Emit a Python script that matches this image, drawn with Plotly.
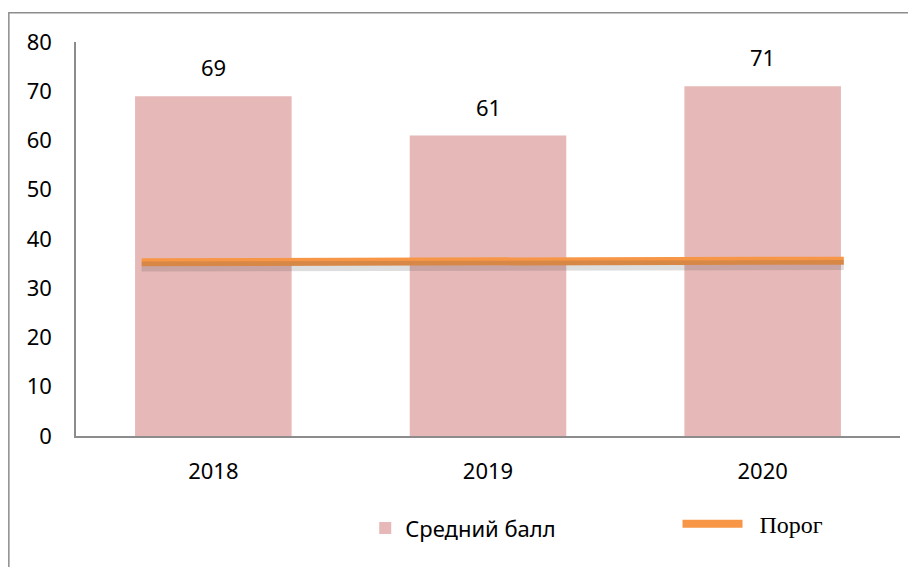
import plotly.graph_objects as go

years = ["2018", "2019", "2020"]
avg_score = [69, 61, 71]
threshold = [35.3, 35.45, 35.6]

BAR_COLOR = "#E6B9B8"
LINE_COLOR = "#F79646"
AXIS_COLOR = "#8C8C8C"
SANS = "Noto Sans, DejaVu Sans, sans-serif"
SERIF = "Liberation Serif, DejaVu Serif, serif"
FS = 22

fig = go.Figure()

fig.add_trace(go.Bar(
    x=years, y=avg_score, name="Средний балл",
    marker=dict(color=BAR_COLOR, line=dict(width=0)),
    xaxis="x", yaxis="y", legend="legend",
))

# soft shadow under the threshold line
fig.add_trace(go.Scatter(
    x=[0, 1, 2], y=threshold, mode="lines",
    line=dict(color="rgba(70,70,70,0.18)", width=10),
    xaxis="x2", yaxis="y3", showlegend=False, hoverinfo="skip",
))
fig.add_trace(go.Scatter(
    x=[0, 1, 2], y=threshold, mode="lines",
    name="\u00a0\u00a0Порог",
    line=dict(color=LINE_COLOR, width=8),
    xaxis="x2", yaxis="y2", legend="legend2",
))

# value labels above bars (category index on the x axis)
for i, v in enumerate(avg_score):
    fig.add_annotation(x=i, y=v, xref="x", yref="y", text=str(v),
                       showarrow=False, yanchor="bottom", yshift=12,
                       font=dict(family=SANS, size=FS, color="#000"))

# outer frame of the chart object
fig.add_shape(type="rect", xref="paper", yref="paper",
              x0=-0.0815, x1=1.2, y0=-0.6, y1=1.074,
              line=dict(color=AXIS_COLOR, width=1.5), layer="below")

fig.update_layout(
    width=908, height=559,
    margin=dict(l=68, r=16, t=34, b=131),
    paper_bgcolor="white", plot_bgcolor="white",
    bargap=0.43,
    font=dict(family=SANS, size=FS, color="#000"),
    xaxis=dict(type="category", range=[-0.5, 2.5], showline=True,
               linecolor=AXIS_COLOR, linewidth=1.5, showgrid=False,
               ticks="", ticklabelstandoff=15, tickfont=dict(size=FS)),
    yaxis=dict(range=[0, 80], dtick=10, showline=True, linecolor=AXIS_COLOR,
               linewidth=1.5, showgrid=False, zeroline=False, ticks="",
               ticklabelstandoff=18, tickfont=dict(size=FS)),
    xaxis2=dict(type="linear", overlaying="x", anchor="y2",
                range=[-0.187, 2.16], visible=False),
    yaxis2=dict(type="linear", overlaying="y", anchor="x2",
                range=[0, 80], visible=False),
    yaxis3=dict(type="linear", overlaying="y", anchor="x2",
                range=[0.9, 80.9], visible=False),
    legend=dict(orientation="h", x=0.351, xanchor="left", y=-0.234,
                yanchor="middle", font=dict(family=SANS, size=FS),
                bgcolor="rgba(0,0,0,0)"),
    legend2=dict(orientation="h", x=0.73, xanchor="left", y=-0.224,
                 yanchor="middle", font=dict(family=SERIF, size=24),
                 itemwidth=60, bgcolor="rgba(0,0,0,0)"),
    showlegend=True,
)

fig.write_html("out.html")
